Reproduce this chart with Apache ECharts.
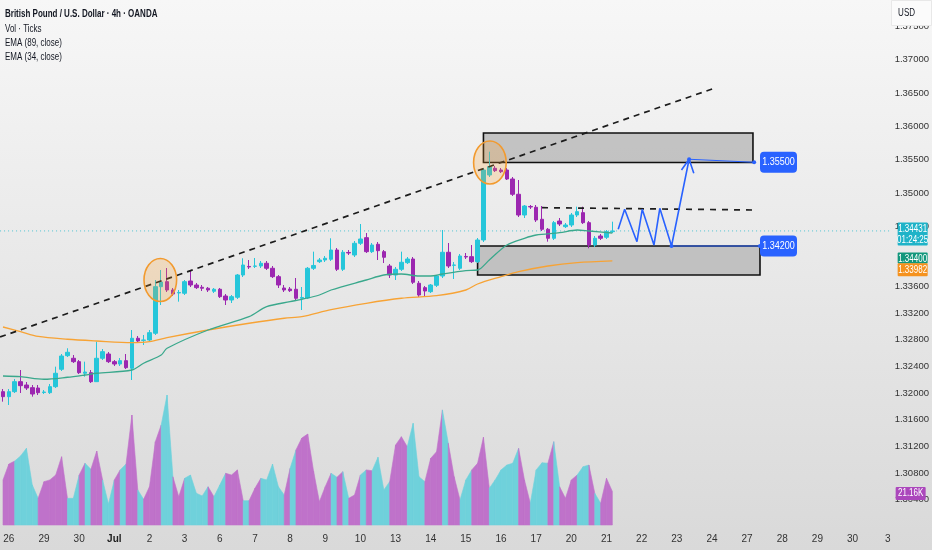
<!DOCTYPE html>
<html><head><meta charset="utf-8">
<script src="https://cdn.jsdelivr.net/npm/echarts@6/dist/echarts.min.js"></script>
<style>html,body{margin:0;padding:0;background:#eee}#c{width:932px;height:550px}</style>
</head><body><div id="c"></div>
<script>
// ---------- data ----------
const dayLabels = ['26','29','30','Jul','2','3','6','7','8','9','10','13','14','15','16','17','20','21','22','23','24','27','28','29','30','3'];
const barsPerDay = 6;
const totalBars = 152;
// [open, close, low, high]
const candles = [
[1.32020,1.31945,1.31870,1.32060],[1.31945,1.32020,1.31820,1.32060],[1.32020,1.32170,1.32000,1.32210],[1.32170,1.32110,1.32000,1.32345],
[1.32120,1.32075,1.32045,1.32165],[1.32080,1.31985,1.31945,1.32120],[1.32075,1.32005,1.31970,1.32120],[1.32008,1.32015,1.31985,1.32045],
[1.32005,1.32095,1.31985,1.32135],[1.32095,1.32296,1.32075,1.32395],[1.32356,1.32555,1.32330,1.32585],[1.32560,1.32611,1.32540,1.32671],
[1.32521,1.32470,1.32450,1.32570],[1.32470,1.32305,1.32285,1.32495],[1.32296,1.32315,1.32245,1.32470],[1.32305,1.32170,1.32150,1.32345],
[1.32170,1.32521,1.32165,1.32770],[1.32521,1.32620,1.32495,1.32660],[1.32585,1.32470,1.32450,1.32615],[1.32470,1.32435,1.32405,1.32495],
[1.32435,1.32485,1.32405,1.32525],[1.32485,1.32380,1.32360,1.32585],[1.32371,1.32821,1.32195,1.32945],[1.32821,1.32780,1.32750,1.32855],
[1.32790,1.32795,1.32720,1.32870],[1.32795,1.32905,1.32765,1.32945],[1.32896,1.33595,1.32870,1.33695],[1.33595,1.33665,1.33320,1.33845],
[1.33670,1.33545,1.33515,1.33875],[1.33545,1.33485,1.33455,1.33575],[1.33500,1.33508,1.33370,1.33545],[1.33496,1.33670,1.33470,1.33695],
[1.33680,1.33620,1.33590,1.33845],[1.33620,1.33580,1.33560,1.33650],[1.33586,1.33571,1.33530,1.33620],[1.33571,1.33545,1.33515,1.33590],
[1.33526,1.33556,1.33500,1.33575],[1.33556,1.33445,1.33425,1.33575],[1.33455,1.33395,1.33320,1.33485],[1.33395,1.33445,1.33350,1.33470],
[1.33436,1.33770,1.33410,1.33785],[1.33770,1.33920,1.33740,1.34021],[1.33898,1.33890,1.33860,1.33995],[1.33901,1.33905,1.33875,1.34025],
[1.33905,1.33946,1.33875,1.33980],[1.33946,1.33871,1.33845,1.33980],[1.33871,1.33745,1.33725,1.33905],[1.33745,1.33620,1.33575,1.33770],
[1.33575,1.33545,1.33515,1.33620],[1.33560,1.33535,1.33515,1.33590],[1.33556,1.33421,1.33395,1.33725],[1.33421,1.33433,1.33245,1.33590],
[1.33425,1.33871,1.33410,1.33890],[1.33871,1.33913,1.33845,1.34120],[1.33970,1.33995,1.33950,1.34025],[1.33995,1.34021,1.33965,1.34055],
[1.34006,1.34145,1.33980,1.34321],[1.34145,1.33856,1.33830,1.34175],[1.33856,1.34111,1.33830,1.34145],[1.34108,1.34100,1.34070,1.34145],
[1.34070,1.34246,1.34040,1.34280],[1.34246,1.34310,1.34220,1.34535],[1.34330,1.34120,1.34100,1.34400],[1.34120,1.34220,1.34100,1.34250],
[1.34231,1.34135,1.33995,1.34265],[1.34120,1.34036,1.33950,1.34145],[1.33905,1.33770,1.33725,1.33935],[1.33770,1.33856,1.33695,1.33890],
[1.33856,1.33961,1.33830,1.34120],[1.33955,1.34010,1.33935,1.34040],[1.34010,1.33661,1.33635,1.34040],[1.33646,1.33470,1.33440,1.33680],
[1.33580,1.33530,1.33445,1.33605],[1.33520,1.33620,1.33500,1.33635],[1.33616,1.33755,1.33590,1.33770],[1.33755,1.34111,1.33725,1.34445],
[1.34111,1.33905,1.33875,1.34250],[1.33916,1.33920,1.33710,1.33965],[1.33871,1.34055,1.33845,1.34085],[1.34048,1.34040,1.34010,1.34100],
[1.34045,1.33970,1.33950,1.34220],[1.33970,1.34295,1.33950,1.34325],[1.34295,1.35345,1.34265,1.35375],[1.35270,1.35395,1.35240,1.35620],
[1.35371,1.35335,1.35315,1.35405],[1.35345,1.35320,1.35300,1.35375],[1.35345,1.35210,1.35195,1.35375],[1.35210,1.34981,1.34955,1.35240],
[1.34981,1.34670,1.34640,1.35195],[1.34670,1.34805,1.34625,1.34820],[1.34798,1.34790,1.34760,1.34820],[1.34786,1.34595,1.34565,1.34820],
[1.34606,1.34456,1.34430,1.34805],[1.34456,1.34321,1.34270,1.34475],[1.34321,1.34555,1.34295,1.34580],[1.34580,1.34535,1.34505,1.34625],
[1.34495,1.34520,1.34475,1.34550],[1.34520,1.34670,1.34490,1.34700],[1.34670,1.34720,1.34640,1.34795],[1.34705,1.34555,1.34535,1.34795],
[1.34555,1.34220,1.34171,1.34580],[1.34220,1.34321,1.34190,1.34355],[1.34355,1.34321,1.34295,1.34385],[1.34336,1.34420,1.34310,1.34445],
[1.34420,1.34431,1.34400,1.34570]
];
// volume in thousands of ticks
const volumes = [28.4,38.4,40.3,43.5,48.3,25.2,16.8,27.3,28.4,31.5,
 43.0,16.8,16.8,31.5,38.9,35.1,46.6,28.4,13.2,28.4,
 34.7,38.4,69.3,22.1,16.2,24.1,52.5,63.0,81.9,30.4,
 17.8,29.4,31.5,20.0,18.3,24.1,17.8,25.2,32.6,31.5,
 34.7,15.3,15.3,23.1,29.4,28.4,38.4,24.1,18.9,35.7,
 47.3,54.8,57.3,34.0,14.7,24.1,32.6,30.1,33.6,16.8,
 18.9,31.5,34.7,34.2,42.7,22.1,27.3,50.4,55.6,49.3,
 64.1,30.4,27.3,42.0,46.2,72.5,51.5,30.4,15.8,28.4,
 34.7,38.9,55.3,23.1,28.4,34.7,37.8,38.9,48.3,28.4,
 13.7,34.7,39.2,38.9,52.5,24.1,16.8,28.4,31.5,36.7,
 37.8,20.0,13.7,29.4,21.16];
// colour of each volume segment (1 = up / cyan, 0 = down / purple)
const volUp = [0,0,1,1,1,1,0,0,0,0,
 0,1,1,0,1,0,0,1,1,0,
 1,0,0,1,0,0,0,1,1,0,
 0,1,1,1,1,0,1,1,0,0,
 0,1,0,0,1,1,1,1,0,1,
 0,0,0,0,0,0,1,0,1,0,
 0,1,0,1,1,1,0,0,0,1,
 1,1,0,0,0,1,0,0,1,1,
 0,0,0,1,1,1,1,1,0,0,
 1,1,1,0,1,0,0,0,1,1,
 0,1,0,0];
const ema89 = [[0,1.32990],[3,1.32920],[6,1.32848],[11,1.32806],[16,1.32780],[22,1.32755],[25,1.32770],[28,1.32830],[35,1.32945],[42,1.33046],[48,1.33121],[51,1.33145],[56,1.33250],[62,1.33346],[68,1.33421],[74,1.33460],[79,1.33545],[81,1.33635],[85,1.33745],[88,1.33820],[93,1.33905],[98,1.33955],[104,1.33982]];
const ema34 = [[0,1.32255],[3,1.32245],[7,1.32206],[11,1.32236],[14,1.32270],[16,1.32296],[22,1.32345],[24,1.32446],[27,1.32570],[28,1.32671],[35,1.32945],[42,1.33145],[45,1.33295],[49,1.33370],[51,1.33406],[54,1.33470],[56,1.33545],[62,1.33695],[65,1.33770],[68,1.33785],[71,1.33755],[73,1.33755],[75,1.33785],[79,1.33835],[81,1.33845],[83,1.33995],[86,1.34220],[89,1.34321],[91,1.34370],[95,1.34405],[98,1.34445],[100,1.34430],[104,1.34400]];
const priceTicks = [1.375,1.37,1.365,1.36,1.355,1.35,1.345,1.336,1.332,1.328,1.324,1.32,1.316,1.312,1.308,1.304];
const lastPrice = 1.34431, countdown = '01:24:25', lastEma34 = 1.34400, lastEma89 = 1.33982, lastVol = 21.16;
// drawings, in (bar index, price)
const trendLine = [[-0.5,1.32840],[121.5,1.36575]];
const resistLine = [[92,1.34780],[128.2,1.34745]];
const zigzag = [[105,1.34456],[106.1,1.34756],[108.2,1.34270],[109.1,1.34756],[111.1,1.34220],[112.1,1.34771],[114.1,1.34205],[117.1,1.35506]];
const arrowHead = [[115.8,1.35345],[117.1,1.35506],[117.9,1.35296]];
const targetLine = [[117.1,1.35506],[128.2,1.35461]];
const supportLine = [[114.1,1.34205],[129.2,1.34205]];
const boxes = [[82,128,1.35458,1.35900],[81,129.2,1.33770,1.34205]]; // x0,x1,low,high
const circles = [[26.85,1.33695],[83.1,1.35458]];
const tags = [[129.2,1.35461,'1.35500'],[129.2,1.34205,'1.34200']];

// ---------- chart ----------
const FONT = "'Liberation Sans',Arial,sans-serif";
const NARROW = 0.8;
const UP = '#26c6da', DOWN = '#9c27b0', VUP = '#6fd1db', VDOWN = '#bf72ca', BLUE = '#2962ff';
const categories = [];
for (let i = 0; i < totalBars; i++) {
  const k = i - 1;
  categories.push(k >= 0 && k % barsPerDay === 0 && dayLabels[k / barsPerDay] !== undefined ? dayLabels[k / barsPerDay] : '');
}
// right-scale tags: [value, text, background, axis]
const scaleTags = [
  {v: lastPrice, text: lastPrice.toFixed(5) + '\n' + countdown, bg: '#1fb3c8', axis: 0},
  {v: lastEma34, text: lastEma34.toFixed(5), bg: '#12977c', axis: 0},
  {v: lastEma89, text: lastEma89.toFixed(5), bg: '#f5921e', axis: 0},
  {v: lastVol, text: lastVol.toFixed(2) + 'K', bg: '#ab47bc', axis: 1}
];
const tagShift = [[0, 3, 23], [0, 25, 11], [0, 9, 13], [-2, 2, 13]]; // dx, dy, height (style)

const chart = echarts.init(document.getElementById('c'), null, {renderer: 'canvas'});
const drawLine = (data, style, extra) => Object.assign({type: 'line', xAxisIndex: 1, yAxisIndex: 0, data: data,
  showSymbol: false, symbol: 'none', silent: true, z: 5, lineStyle: style}, extra || {});
const scaleTagSeries = axis => ({
  type: 'custom', xAxisIndex: 1, yAxisIndex: axis, z: 30, silent: true, clip: false,
  data: scaleTags.map((t, i) => [totalBars - 0.5, t.v, i]).filter(d => scaleTags[d[2]].axis === axis),
  renderItem: (params, api) => {
    const i = api.value(2), t = scaleTags[i], s = tagShift[i];
    const p = api.coord([api.value(0), api.value(1)]);
    const x = p[0] + 7 + s[0], cy = p[1] + s[1], h = s[2];
    const lines = t.text.split('\n');
    const children = [{type: 'rect', shape: {x: x, y: cy - h / 2, width: 30, height: h, r: 1}, style: {fill: t.bg}}];
    lines.forEach((ln, k) => children.push({type: 'text', x: x + 15, y: cy - h / 2 + 1 + 11 * k + 5.5, scaleX: NARROW,
      style: {text: ln, fill: '#fff', font: '10px ' + FONT, align: 'center', verticalAlign: 'middle'}}));
    return {type: 'group', children: children};
  }
});

chart.setOption({
  animation: false,
  backgroundColor: {type: 'linear', x: 0, y: 0, x2: 0, y2: 1, colorStops: [{offset: 0, color: '#f7f7f7'}, {offset: 1, color: '#d9d9d9'}]},
  grid: {left: 0, right: 40, top: 0, bottom: 25},
  xAxis: [
    {type: 'category', data: categories, boundaryGap: true, axisLine: {show: false}, axisTick: {show: false}, splitLine: {show: false},
     axisLabel: {interval: 0, color: '#333', fontSize: 10, fontFamily: FONT, margin: 9,
       formatter: v => v === 'Jul' ? '{b|Jul}' : v, rich: {b: {fontWeight: 'bold', fontSize: 10, fontFamily: FONT, color: '#222'}}}},
    {type: 'value', min: -0.5, max: totalBars - 0.5, show: false}
  ],
  yAxis: [
    {type: 'value', position: 'right', min: 1.3002, max: 1.37895, scale: true, axisLine: {show: false}, axisTick: {show: false}, splitLine: {show: false},
     axisLabel: {customValues: priceTicks, formatter: v => v.toFixed(5), color: '#333', fontSize: 9.5, fontFamily: FONT, margin: 4}},
    {type: 'value', min: 0, max: 330.75, show: false}
  ],
  graphic: [
    {type: 'text', left: 5, top: 9, z: 20, scaleX: NARROW, style: {text: 'British Pound / U.S. Dollar · 4h · OANDA', font: 'bold 10px ' + FONT, fill: '#131722'}},
    {type: 'text', left: 5, top: 24, z: 20, scaleX: NARROW, style: {text: 'Vol · Ticks', font: '10px ' + FONT, fill: '#131722'}},
    {type: 'text', left: 5, top: 38, z: 20, scaleX: NARROW, style: {text: 'EMA (89, close)', font: '10px ' + FONT, fill: '#131722'}},
    {type: 'text', left: 5, top: 52, z: 20, scaleX: NARROW, style: {text: 'EMA (34, close)', font: '10px ' + FONT, fill: '#131722'}},
    {type: 'rect', right: 0, top: 0, z: 20, shape: {width: 40, height: 25}, style: {fill: '#fbfbfb', stroke: '#e8e8e8'}},
    {type: 'text', right: 17, top: 8, z: 21, scaleX: NARROW, style: {text: 'USD', font: '10px ' + FONT, fill: '#131722'}}
  ],
  series: [
    {type: 'custom', name: 'boxes', xAxisIndex: 1, yAxisIndex: 0, z: 1, silent: true, data: boxes,
     renderItem: (params, api) => {
       const p1 = api.coord([api.value(0), api.value(3)]), p2 = api.coord([api.value(1), api.value(2)]);
       return {type: 'rect', shape: {x: p1[0], y: p1[1], width: p2[0] - p1[0], height: p2[1] - p1[1]},
         style: {fill: 'rgba(178,178,178,0.72)', stroke: '#111', lineWidth: 1.6}};
     }},
    {type: 'custom', name: 'Vol', xAxisIndex: 0, yAxisIndex: 1, z: 1, silent: true,
     data: volumes.map((v, i) => [i, v]),
     renderItem: (params, api) => {
       const i = params.dataIndex;
       if (i >= volumes.length - 1) return null;
       const a = api.coord([i, volumes[i]]), b = api.coord([i + 1, volumes[i + 1]]);
       const a0 = api.coord([i, 0]), b0 = api.coord([i + 1, 0]);
       const c = volUp[i] ? VUP : VDOWN;
       return {type: 'polygon', shape: {points: [a, b, b0, a0]}, style: {fill: c, stroke: c, lineWidth: 0.6}};
     }},
    {type: 'candlestick', name: 'GBPUSD', xAxisIndex: 0, yAxisIndex: 0, z: 3, data: candles, barWidth: 4,
     itemStyle: {color: UP, color0: DOWN, borderColor: UP, borderColor0: DOWN, borderWidth: 1}},
    drawLine([[-0.5, lastPrice], [totalBars - 0.5, lastPrice]], {color: '#4fc3d1', type: [1, 3], width: 1}, {z: 2}),
    drawLine(ema89, {color: '#f7a335', width: 1.3}, {smooth: 0.3, z: 4}),
    drawLine(ema34, {color: '#3aa88c', width: 1.3}, {smooth: 0.3, z: 4}),
    drawLine(trendLine, {color: '#1c1c1c', width: 1.7, type: [6, 5]}),
    drawLine(resistLine, {color: '#1c1c1c', width: 1.7, type: [6, 6]}),
    drawLine(zigzag, {color: BLUE, width: 1.6}),
    drawLine(arrowHead, {color: BLUE, width: 1.6}),
    drawLine(targetLine, {color: BLUE, width: 1.2}, {showSymbol: true, symbol: 'circle', symbolSize: 4, itemStyle: {color: BLUE}}),
    drawLine(supportLine, {color: BLUE, width: 1.2}, {showSymbol: true, symbol: 'circle', symbolSize: 4, itemStyle: {color: BLUE}}),
    {type: 'custom', name: 'circles', xAxisIndex: 1, yAxisIndex: 0, z: 6, silent: true, data: circles,
     renderItem: (params, api) => {
       const p = api.coord([api.value(0), api.value(1)]);
       return {type: 'ellipse', shape: {cx: p[0], cy: p[1], rx: 16.3, ry: 21.5},
         style: {fill: 'rgba(255,160,40,0.22)', stroke: '#f29a2e', lineWidth: 1.6}};
     }},
    {type: 'custom', name: 'tags', xAxisIndex: 1, yAxisIndex: 0, z: 7, silent: true, data: tags.map(t => [t[0], t[1]]),
     renderItem: (params, api) => {
       const p = api.coord([api.value(0), api.value(1)]);
       const txt = tags[params.dataIndex][2];
       return {type: 'group', children: [
         {type: 'rect', shape: {x: p[0], y: p[1] - 10.5, width: 37, height: 21, r: 4}, style: {fill: BLUE}},
         {type: 'text', x: p[0] + 18.5, y: p[1], scaleX: 0.9, style: {text: txt, fill: '#fff', font: '10px ' + FONT, align: 'center', verticalAlign: 'middle'}}
       ]};
     }},
    scaleTagSeries(0),
    scaleTagSeries(1)
  ]
});
</script></body></html>
